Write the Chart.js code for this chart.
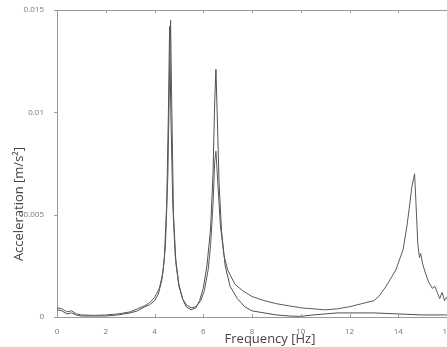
<!DOCTYPE html>
<html lang="en">
<head>
    <meta charset="UTF-8">
    <title>Acceleration spectrum</title>
    <script src="https://cdn.jsdelivr.net/npm/chart.js"></script>
    <style>
        html, body { margin: 0; padding: 0; background: #fff; overflow: hidden; }
        #wrap { width: 470px; height: 347px; }
    </style>
</head>
<body>
    <div id="wrap"><canvas id="chart"></canvas></div>

    <script>
        // frequency [Hz] and acceleration [m/s^2]
        const freqA = [0, 0.2, 0.4, 0.6, 0.8, 1.0, 1.5, 2.0, 2.5, 3.0, 3.3, 3.6, 3.8, 4.0, 4.2, 4.35, 4.45, 4.55, 4.62, 4.66, 4.7, 4.78, 4.88, 5.0, 5.15, 5.3, 5.5, 5.7, 5.9, 6.05, 6.2, 6.3, 6.4, 6.47, 6.52, 6.6, 6.7, 6.85, 7.0, 7.3, 7.6, 8.0, 8.5, 9.0, 9.5, 10.0, 10.5, 11.0, 11.5, 12.0, 12.5, 13.0, 13.2, 13.5, 13.9, 14.2, 14.35, 14.45, 14.55, 14.67, 14.73, 14.8, 14.87, 14.92, 15.0, 15.1, 15.25, 15.4, 15.5, 15.6, 15.7, 15.8, 15.9, 16.0];
        const accA = [0.00045, 0.0004, 0.00025, 0.0003, 0.00015, 0.0001, 0.00008, 0.0001, 0.00015, 0.00025, 0.0004, 0.00055, 0.0007, 0.00095, 0.0014, 0.0022, 0.0035, 0.007, 0.012, 0.0145, 0.011, 0.005, 0.0026, 0.0015, 0.0009, 0.0006, 0.00045, 0.0005, 0.0008, 0.0013, 0.0023, 0.0035, 0.0055, 0.0076, 0.0081, 0.0065, 0.0045, 0.003, 0.0023, 0.0016, 0.0013, 0.001, 0.0008, 0.00065, 0.00055, 0.00045, 0.0004, 0.00035, 0.0004, 0.0005, 0.00065, 0.0008, 0.001, 0.0015, 0.0023, 0.0033, 0.0044, 0.0053, 0.0063, 0.007, 0.0055, 0.0036, 0.0029, 0.0031, 0.0026, 0.0022, 0.0017, 0.0014, 0.0015, 0.0012, 0.0009, 0.0012, 0.0008, 0.001];

        const freqB = [0, 0.2, 0.4, 0.6, 0.8, 1.0, 1.5, 2.0, 2.5, 3.0, 3.3, 3.6, 3.8, 4.0, 4.15, 4.3, 4.4, 4.5, 4.57, 4.62, 4.67, 4.75, 4.85, 5.0, 5.15, 5.3, 5.5, 5.7, 5.85, 6.0, 6.15, 6.3, 6.4, 6.47, 6.52, 6.57, 6.65, 6.75, 6.9, 7.1, 7.4, 7.7, 8.0, 8.5, 9.0, 9.5, 10.0, 10.5, 11.0, 11.5, 12.0, 13.0, 14.0, 15.0, 16.0];
        const accB = [0.00035, 0.0003, 0.00015, 0.0002, 0.0001, 0.00005, 0.00005, 0.00005, 0.0001, 0.0002, 0.0003, 0.0005, 0.0006, 0.0008, 0.0011, 0.0018, 0.0028, 0.0055, 0.01, 0.0142, 0.01, 0.0055, 0.003, 0.0016, 0.0009, 0.0005, 0.00035, 0.00045, 0.0008, 0.0014, 0.0025, 0.0043, 0.007, 0.0105, 0.0121, 0.01, 0.0065, 0.0042, 0.0025, 0.0015, 0.0009, 0.0005, 0.0003, 0.0002, 0.0001, 0.00005, 0.00003, 0.0001, 0.00015, 0.0002, 0.0002, 0.0002, 0.00015, 0.0001, 0.0001];

        const xTicks = [0, 2, 4, 6, 8, 10, 12, 14, 16];
        const yTicks = [0, 0.005, 0.01, 0.015];
        const yTickLabels = ["0", "0.005", "0.01", "0.015"];

        const toPoints = (xs, ys) => xs.map((x, i) => ({ x: x, y: ys[i] }));

        const axisColor = "#9a9a9a";
        const tickFont = { family: "'Open Sans', sans-serif", size: 8 };

        // frame on top, small inward tick marks, axis titles
        const framePlugin = {
            id: "frame",
            afterDraw(chart) {
                const { ctx, chartArea: a, scales } = chart;
                ctx.save();
                ctx.strokeStyle = axisColor;
                ctx.lineWidth = 1;
                ctx.beginPath();
                ctx.moveTo(a.left, a.top + 0.5);
                ctx.lineTo(a.right, a.top + 0.5);
                xTicks.forEach(v => {
                    const px = Math.round(scales.x.getPixelForValue(v)) + 0.5;
                    ctx.moveTo(px, a.bottom);
                    ctx.lineTo(px, a.bottom - 3);
                    ctx.moveTo(px, a.top);
                    ctx.lineTo(px, a.top + 3);
                });
                yTicks.forEach(v => {
                    const py = Math.round(scales.y.getPixelForValue(v)) + 0.5;
                    ctx.moveTo(a.left - 3, py);
                    ctx.lineTo(a.left, py);
                });
                ctx.stroke();

                ctx.fillStyle = "#444";
                ctx.font = "13px 'Open Sans', sans-serif";
                ctx.textAlign = "center";
                ctx.textBaseline = "middle";
                ctx.fillText("Frequency [Hz]", 270, 339);

                ctx.translate(19, 204);
                ctx.rotate(-Math.PI / 2);
                ctx.font = "13px 'Open Sans', sans-serif";
                ctx.fillText("Acceleration [m/s²]", 0, 0);
                ctx.restore();
            }
        };

        new Chart(document.getElementById("chart"), {
            type: "line",
            data: {
                datasets: [
                    { data: toPoints(freqA, accA), borderColor: "#5a5a5a", borderWidth: 1, pointRadius: 0, tension: 0, fill: false },
                    { data: toPoints(freqB, accB), borderColor: "#505050", borderWidth: 1, pointRadius: 0, tension: 0, fill: false }
                ]
            },
            options: {
                responsive: true,
                maintainAspectRatio: false,
                animation: false,
                layout: { padding: { top: 10, right: 23, left: 0, bottom: 0 } },
                plugins: { legend: { display: false }, tooltip: { enabled: false } },
                scales: {
                    x: {
                        type: "linear",
                        min: 0,
                        max: 16,
                        afterFit(scale) { scale.height = 30; },
                        afterBuildTicks(scale) { scale.ticks = xTicks.map(v => ({ value: v })); },
                        grid: { display: false },
                        border: { display: true, color: axisColor },
                        ticks: { font: tickFont, color: "#777", padding: 2, maxRotation: 0 }
                    },
                    y: {
                        min: 0,
                        max: 0.015,
                        afterFit(scale) { scale.width = 57; },
                        afterBuildTicks(scale) { scale.ticks = yTicks.map(v => ({ value: v })); },
                        grid: { display: false },
                        border: { display: true, color: axisColor },
                        ticks: {
                            font: tickFont,
                            color: "#777",
                            padding: 5,
                            callback: (v) => yTickLabels[yTicks.indexOf(v)]
                        }
                    }
                }
            },
            plugins: [framePlugin]
        });
    </script>
</body>
</html>
